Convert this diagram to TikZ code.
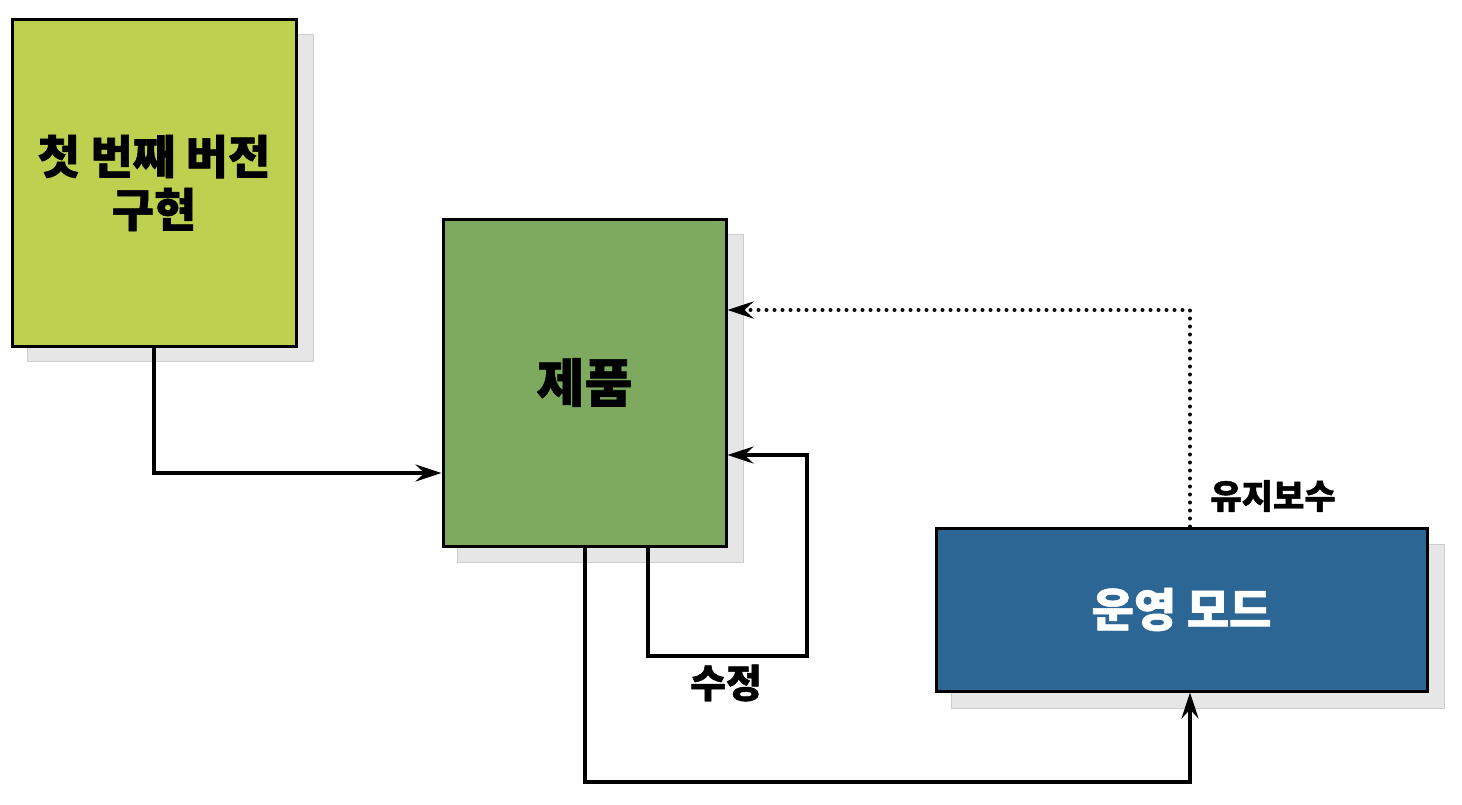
\documentclass[tikz,border=0pt]{standalone}
\usepackage{fontspec}
\newfontfamily\kr{Noto Sans CJK KR}[BoldFeatures={FakeBold=1.2}]
\usetikzlibrary{arrows.meta}
\definecolor{lime}{HTML}{BDD050}
\definecolor{prodgreen}{HTML}{7EAA60}
\definecolor{opblue}{HTML}{2C6694}
\definecolor{shade}{HTML}{E6E6E6}
\begin{document}
\begin{tikzpicture}[x=1pt,y=-1pt,
  box/.style={draw=black,line width=3pt,rectangle,inner sep=0pt,align=center,font=\kr\bfseries},
  shadowbox/.style={fill=shade,draw=black!20,line width=0.8pt},
  conn/.style={line width=3.5pt,-{Stealth[length=26pt,width=17pt,inset=9pt]}},
  lbl/.style={font=\kr\bfseries\fontsize{34}{40}\selectfont}]
\useasboundingbox (0,0) rectangle (1462,804);
% shadows
\draw[shadowbox] (27,34) rectangle (313,361);
\draw[shadowbox] (457,234) rectangle (743,562);
\draw[shadowbox] (951,544) rectangle (1444,708);
% boxes
\node[box,fill=lime,minimum width=284pt,minimum height=327pt,font=\kr\bfseries\fontsize{46}{53}\selectfont] (b1) at (154,183) {첫 번째 버전\\구현};
\node[box,fill=prodgreen,minimum width=283pt,minimum height=327pt,font=\kr\bfseries\fontsize{52}{60}\selectfont] (b2) at (584.5,382.5) {제품};
\node[box,fill=opblue,minimum width=491pt,minimum height=163pt,text=white,font=\kr\bfseries\fontsize{46}{54}\selectfont] (b3) at (1181.5,609.5) {운영 모드};
% coordinates
\coordinate (c1) at (154,473);
\coordinate (c2) at (648,656);
\coordinate (c3) at (807,656);
\coordinate (c4) at (807,455);
\coordinate (c5) at (585,782);
\coordinate (c6) at (1190,782);
\coordinate (c7) at (1190,310);
% connectors
\draw[conn] (b1.south) -- (c1) -- (b2.west |- c1);
\draw[conn] (b2.south -| c2) -- (c2) -- (c3) -- (c4) -- (b2.east |- c4);
\draw[conn] (b2.south -| c5) -- (c5) -- (c6) -- (b3.south -| c6);
\draw[conn,line cap=round,dash pattern=on 0pt off 8pt,line width=4pt] (b3.north -| c7) -- (c7) -- (b2.east |- c7);
% labels
\node[lbl,font=\kr\bfseries\fontsize{39}{44}\selectfont] (l1) at (726,683) {수정};
\node[lbl] (l2) at (1273,496) {유지보수};
\end{tikzpicture}
\end{document}
